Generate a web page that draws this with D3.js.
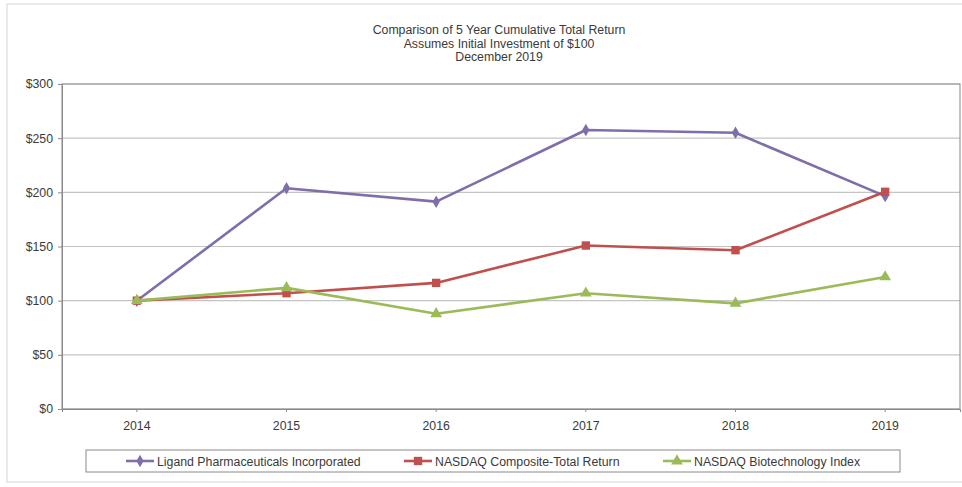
<!DOCTYPE html>
<html>
<head>
<meta charset="utf-8">
<script src="https://cdn.jsdelivr.net/npm/d3@7"></script>
<style>
  body { margin: 0; background: #fff; }
  svg { display: block; font-family: "Liberation Sans", Arial, sans-serif; }
</style>
</head>
<body>
<svg id="chart" width="962" height="487"></svg>
<script>
const years = ["2014", "2015", "2016", "2017", "2018", "2019"];
const ligand = [100, 203.7, 191.4, 257.5, 255.0, 196.5];
const nasdaqComposite = [100, 106.9, 116.4, 150.9, 146.6, 200.5];
const nasdaqBiotech = [100, 111.8, 87.9, 106.9, 97.5, 121.9];
const yTicks = [0, 50, 100, 150, 200, 250, 300];
const titleLines = ["Comparison of 5 Year Cumulative Total Return", "Assumes Initial Investment of $100", "December 2019"];

const series = [
  { name: "Ligand Pharmaceuticals Incorporated", values: ligand, color: "#7F6EAA", marker: "diamond" },
  { name: "NASDAQ Composite-Total Return", values: nasdaqComposite, color: "#C0504D", marker: "square" },
  { name: "NASDAQ Biotechnology Index", values: nasdaqBiotech, color: "#9BBB59", marker: "triangle" }
];

const FS = 12.3;
const TXT = "#3a3a3a";

const svg = d3.select("#chart");
const plot = { left: 62, right: 960, top: 84, bottom: 409 };

// outer frame
svg.append("rect").attr("x", 7).attr("y", 4).attr("width", 1000).attr("height", 478)
  .attr("fill", "none").attr("stroke", "#e2e2e2").attr("stroke-width", 1.5);

// title
svg.append("g").selectAll("text").data(titleLines).join("text")
  .attr("x", 499).attr("y", (d, i) => 34 + i * 13.5)
  .attr("text-anchor", "middle").attr("font-size", FS).attr("fill", TXT)
  .text(d => d);

const x = d3.scaleBand().domain(years).range([plot.left, plot.right]);
const y = d3.scaleLinear().domain([0, 300]).range([plot.bottom, plot.top]);
const cx = d => x(d) + x.bandwidth() / 2;

// gridlines
svg.append("g").selectAll("line").data(yTicks).join("line")
  .attr("x1", plot.left).attr("x2", plot.right)
  .attr("y1", d => y(d)).attr("y2", d => y(d))
  .attr("stroke", "#c4c4c4").attr("stroke-width", 1.2);

// plot border
svg.append("rect").attr("x", plot.left).attr("y", plot.top)
  .attr("width", plot.right - plot.left).attr("height", plot.bottom - plot.top)
  .attr("fill", "none").attr("stroke", "#9a9a9a").attr("stroke-width", 1.2);

// y axis
const yAxis = d3.axisLeft(y).tickValues(yTicks).tickFormat(d => "$" + d).tickSize(4).tickPadding(5);
const gy = svg.append("g").attr("transform", `translate(${plot.left},0)`).call(yAxis);
gy.select(".domain").attr("stroke", "#8a8a8a");
gy.selectAll(".tick line").attr("stroke", "#8a8a8a");
gy.selectAll(".tick text").attr("font-size", FS).attr("fill", TXT).attr("font-family", "Liberation Sans, Arial, sans-serif");

// x axis
const xAxis = d3.axisBottom(x).tickSize(3).tickPadding(9);
const gx = svg.append("g").attr("transform", `translate(0,${plot.bottom})`).call(xAxis);
gx.select(".domain").attr("stroke", "#8a8a8a");
gx.selectAll(".tick line").attr("stroke", "#8a8a8a");
gx.selectAll(".tick text").attr("font-size", FS).attr("fill", TXT).attr("font-family", "Liberation Sans, Arial, sans-serif");

const symbolFor = m => m === "diamond" ? d3.symbolDiamond : (m === "square" ? d3.symbolSquare : d3.symbolTriangle);
const sizeFor = m => m === "diamond" ? 45 : (m === "square" ? 70 : 60);

const line = d3.line().x((d, i) => cx(years[i])).y(d => y(d));

series.forEach(s => {
  const g = svg.append("g");
  g.append("path").datum(s.values).attr("d", line)
    .attr("fill", "none").attr("stroke", s.color).attr("stroke-width", 2.6).attr("stroke-linejoin", "round");
  g.selectAll("path.m").data(s.values).join("path").attr("class", "m")
    .attr("transform", (d, i) => `translate(${cx(years[i])},${y(d)})`)
    .attr("d", d3.symbol().type(symbolFor(s.marker)).size(sizeFor(s.marker)))
    .attr("fill", s.color);
});

// legend
svg.append("rect").attr("x", 86).attr("y", 450).attr("width", 814).attr("height", 22)
  .attr("fill", "#fff").attr("stroke", "#8a8a8a").attr("stroke-width", 1);
const legendX = [126, 404, 663];
series.forEach((s, i) => {
  const g = svg.append("g").attr("transform", `translate(${legendX[i]},461)`);
  g.append("line").attr("x1", 0).attr("x2", 28).attr("stroke", s.color).attr("stroke-width", 2.6);
  g.append("path").attr("transform", "translate(14,0)")
    .attr("d", d3.symbol().type(symbolFor(s.marker)).size(sizeFor(s.marker)))
    .attr("fill", s.color);
  g.append("text").attr("x", 31).attr("y", 4.5).attr("font-size", FS).attr("fill", TXT).text(s.name);
});
</script>
</body>
</html>
